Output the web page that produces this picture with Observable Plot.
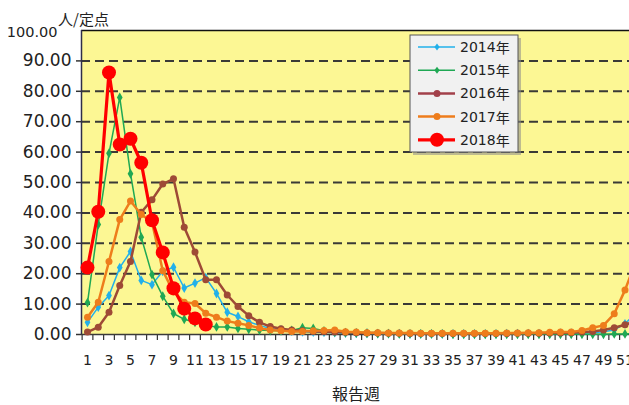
<!DOCTYPE html>
<html>
<head>
<meta charset="utf-8">
<script src="https://cdn.jsdelivr.net/npm/d3@7"></script>
<script src="https://cdn.jsdelivr.net/npm/@observablehq/plot@0.6"></script>
<style>
  html, body { margin: 0; padding: 0; background: #ffffff; overflow: hidden; }
  #chart svg { overflow: hidden; display: block; }
</style>
</head>
<body>
<div id="chart"></div>
<script>
const weeks = d3.range(1, 53);
const seriesNames = ["2014年", "2015年", "2016年", "2017年", "2018年"];
const seriesColors = ["#22b0ea", "#1fa854", "#9e4a36", "#ee7d1c", "#ff0000"];
const legendColors = ["#22b0ea", "#1fa854", "#a2404a", "#ee7d1c", "#ff0000"];

const v2014 = [4.0, 9.0, 12.8, 22.0, 27.3, 17.8, 16.4, 20.8, 22.1, 15.3, 16.9, 18.7, 13.5, 7.3, 5.9, 4.2, 3.0, 2.0, 1.5, 1.1, 0.9, 0.8, 0.7, 0.6, 0.5, 0.4, 0.4, 0.3, 0.3, 0.3, 0.2, 0.2, 0.2, 0.2, 0.2, 0.2, 0.2, 0.2, 0.2, 0.3, 0.3, 0.3, 0.3, 0.3, 0.4, 0.4, 0.5, 0.6, 0.9, 1.5, 3.5, 7.0];
const v2015 = [10.5, 36.2, 59.6, 78.0, 52.9, 32.0, 19.7, 12.6, 6.9, 5.0, 4.0, 3.0, 2.5, 2.5, 2.0, 1.7, 1.5, 1.3, 1.2, 1.3, 2.2, 2.0, 1.2, 0.8, 0.6, 0.5, 0.4, 0.3, 0.3, 0.2, 0.2, 0.2, 0.2, 0.2, 0.1, 0.1, 0.1, 0.1, 0.1, 0.1, 0.1, 0.1, 0.1, 0.1, 0.1, 0.1, 0.1, 0.1, 0.1, 0.2, 0.2, 0.3];
const v2016 = [0.8, 2.4, 7.3, 16.1, 24.0, 40.2, 44.3, 49.5, 51.2, 35.3, 27.1, 18.0, 18.0, 13.0, 9.2, 6.2, 4.0, 2.6, 1.9, 1.5, 1.2, 1.0, 0.9, 0.8, 0.7, 0.6, 0.5, 0.5, 0.4, 0.4, 0.3, 0.3, 0.3, 0.3, 0.3, 0.3, 0.3, 0.3, 0.3, 0.3, 0.4, 0.4, 0.4, 0.5, 0.5, 0.6, 0.8, 1.0, 1.5, 2.2, 3.2, 4.5];
const v2017 = [5.7, 10.6, 24.0, 37.8, 43.9, 39.5, 37.0, 21.0, 14.0, 10.6, 10.2, 7.0, 5.7, 4.4, 3.7, 3.0, 2.1, 1.5, 1.2, 1.0, 1.0, 1.2, 1.3, 1.5, 0.9, 0.8, 0.6, 0.6, 0.5, 0.5, 0.5, 0.4, 0.4, 0.4, 0.4, 0.4, 0.4, 0.4, 0.4, 0.5, 0.5, 0.6, 0.6, 0.7, 0.8, 0.8, 1.3, 2.2, 3.0, 6.8, 14.6, 24.0];
const v2018 = [22.0, 40.4, 86.2, 62.5, 64.4, 56.5, 37.6, 27.0, 15.2, 8.5, 5.3, 3.3];

const yTicks = [0, 10, 20, 30, 40, 50, 60, 70, 80, 90];
const gridTicks = [10, 20, 30, 40, 50, 60, 70, 80, 90];
const xLabelTicks = d3.range(1, 52, 2);
const xBoundaryTicks = d3.range(0.5, 52, 1);

const allValues = [v2014, v2015, v2016, v2017, v2018];
const rows = (i) => allValues[i].map((v, k) => ({week: weeks[k], value: v, series: seriesNames[i]}));

const styles = [
  {sw: 1.5, symbol: "diamond", r: 3},
  {sw: 1.5, symbol: "diamond", r: 3},
  {sw: 2.5, symbol: "circle", r: 3.5},
  {sw: 2.5, symbol: "circle", r: 3.5},
  {sw: 3.2, symbol: "circle", r: 7}
];

const seriesMarks = [];
for (let i = 0; i < 5; i++) {
  const d = rows(i);
  seriesMarks.push(Plot.line(d, {x: "week", y: "value", stroke: seriesColors[i], strokeWidth: styles[i].sw}));
  seriesMarks.push(Plot.dot(d, {x: "week", y: "value", fill: seriesColors[i], stroke: "none", r: styles[i].r, symbol: styles[i].symbol}));
}

const FONT = "'DejaVu Sans', sans-serif";
const CJK = "'Noto Sans CJK JP', 'Noto Sans CJK SC', sans-serif";

const chart = Plot.plot({
  width: 629,
  height: 405,
  marginLeft: 81,
  marginRight: 0,
  marginTop: 30,
  marginBottom: 71,
  style: {fontFamily: FONT, background: "#ffffff", color: "#222"},
  x: {domain: [0.442, 51.42], label: null},
  y: {domain: [0, 100], label: null},
  marks: [
    Plot.frame({fill: "#fcf794", stroke: null}),
    Plot.gridY(gridTicks, {stroke: "#3a3a36", strokeOpacity: 1, strokeWidth: 2, strokeDasharray: "9,5"}),
    Plot.axisY(yTicks, {label: null, tickSize: 5, tickPadding: 5, tickFormat: d => d.toFixed(2), fontSize: 17, stroke: "#333", strokeWidth: 1.5, fill: "#222"}),
    Plot.text([100], {y: d => d, frameAnchor: "left", text: d => d.toFixed(2), textAnchor: "end", dx: -24, dy: 2, fontSize: 14.5, fill: "#222"}),
    Plot.axisX(xBoundaryTicks, {label: null, tickSize: 6, tickFormat: () => "", stroke: "#333", strokeWidth: 1.2}),
    Plot.axisX(xLabelTicks, {label: null, tickSize: 0, tickPadding: 21, fontSize: 14, fill: "#222"}),
    Plot.ruleY([0], {stroke: "#3a3a3a", strokeWidth: 1.5}),
    Plot.ruleY([100], {stroke: "#111", strokeWidth: 1.5}),
    Plot.ruleX([0.442], {stroke: "#2e2e4a", strokeWidth: 1.5}),
    ...seriesMarks
  ]
});

document.getElementById("chart").appendChild(chart);

const svg = d3.select(chart);

// Unit label and axis title
svg.append("text")
  .attr("x", 58).attr("y", 25).attr("text-anchor", "start")
  .attr("font-family", CJK).attr("font-size", 15).attr("fill", "#222")
  .text("人/定点");
svg.append("text")
  .attr("x", 356).attr("y", 396)
  .attr("text-anchor", "middle").attr("dominant-baseline", "middle")
  .attr("font-family", CJK).attr("font-size", 16).attr("fill", "#222")
  .text("報告週");

// Legend
const lg = svg.append("g").attr("text-anchor", "start");
lg.append("rect").attr("x", 413).attr("y", 38).attr("width", 108).attr("height", 117)
  .attr("fill", "#8a8a8a").attr("opacity", 0.55);
lg.append("rect").attr("x", 410).attr("y", 35).attr("width", 108).attr("height", 117)
  .attr("fill", "#f1f1f1").attr("stroke", "#555").attr("stroke-width", 1);
const ly0 = 47, lstep = 23.2;
seriesNames.forEach((name, i) => {
  const y = ly0 + i * lstep;
  lg.append("line").attr("x1", 418).attr("x2", 455).attr("y1", y).attr("y2", y)
    .attr("stroke", legendColors[i]).attr("stroke-width", styles[i].sw);
  if (styles[i].symbol === "diamond") {
    const s = styles[i].r + 0.5;
    lg.append("path").attr("d", `M437,${y - s}L${437 + s * 0.75},${y}L437,${y + s}L${437 - s * 0.75},${y}Z`)
      .attr("fill", legendColors[i]);
  } else {
    lg.append("circle").attr("cx", 437).attr("cy", y).attr("r", styles[i].r).attr("fill", legendColors[i]);
  }
  lg.append("text").attr("x", 460).attr("y", y).attr("dominant-baseline", "central").attr("text-anchor", "start")
    .attr("font-family", FONT).attr("font-size", 14).attr("fill", "#222")
    .text(name.replace("年", "")).append("tspan").attr("font-family", CJK).text("年");
});
</script>
</body>
</html>
